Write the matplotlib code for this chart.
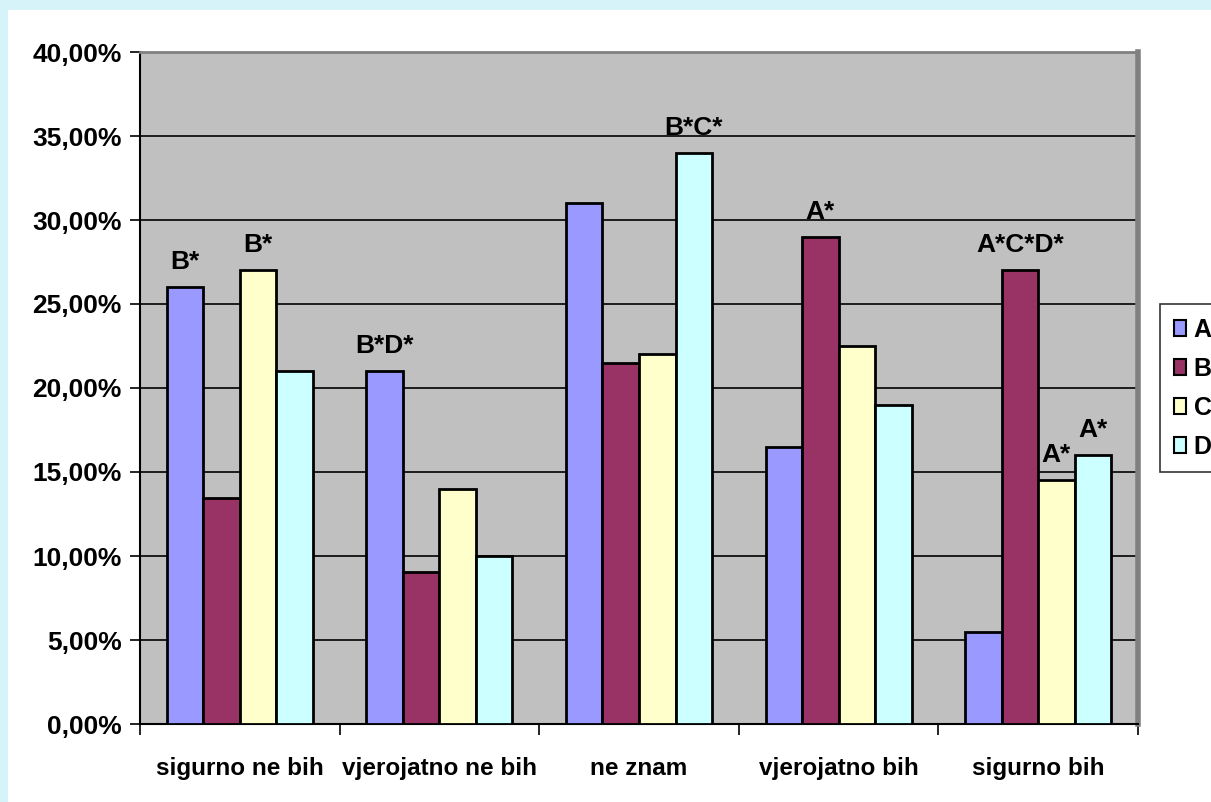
import matplotlib
matplotlib.use("Agg")
import matplotlib.pyplot as plt
import numpy as np
from matplotlib.patches import Rectangle
from matplotlib.ticker import FuncFormatter

categories = ["sigurno ne bih", "vjerojatno ne bih", "ne znam", "vjerojatno bih", "sigurno bih"]
series_names = ["A", "B", "C", "D"]
A = [26.0, 21.0, 31.0, 16.5, 5.5]
B = [13.45, 9.05, 21.5, 29.0, 27.0]
C = [27.0, 14.0, 22.0, 22.5, 14.5]
D = [21.0, 10.0, 34.0, 19.0, 16.0]
series = [A, B, C, D]
colors = ["#9999FF", "#993366", "#FFFFCC", "#CCFFFF"]
# annotations: (category index, series index, text)
annotations = [(0, 0, "B*"), (0, 2, "B*"), (1, 0, "B*D*"), (2, 3, "B*C*"),
               (3, 1, "A*"), (4, 1, "A*C*D*"), (4, 2, "A*"), (4, 3, "A*")]
yticks = [0, 5, 10, 15, 20, 25, 30, 35, 40]

plt.rcParams['font.family'] = ['Liberation Sans', 'DejaVu Sans']
plt.rcParams['font.weight'] = 'bold'

fig = plt.figure(figsize=(12.11, 8.02), dpi=100)
fig.patch.set_facecolor("white")
# light blue border strips (left and top)
fig.patches.append(Rectangle((0, 0), 8 / 1211, 1, transform=fig.transFigure,
                             facecolor="#D5F3F8", edgecolor="none", zorder=0))
fig.patches.append(Rectangle((0, 1 - 10 / 802), 1, 10 / 802, transform=fig.transFigure,
                             facecolor="#D5F3F8", edgecolor="none", zorder=0))

ax = fig.add_axes([140 / 1211, 1 - 724 / 802, (1138 - 140) / 1211, (724 - 52) / 802])
ax.set_facecolor("#C0C0C0")

n = len(categories)
x = np.arange(n)
w = 0.183
for i, (vals, col, name) in enumerate(zip(series, colors, series_names)):
    ax.bar(x + (i - 1.5) * w, vals, width=w, color=col, edgecolor="black",
           linewidth=2, label=name, zorder=3)

for ci, si, txt in annotations:
    ax.annotate(txt, (x[ci] + (si - 1.5) * w, series[si][ci]),
                xytext=(0, 13), textcoords="offset points", ha="center",
                va="baseline", fontsize=19, fontweight="bold", zorder=4)

ax.set_xlim(-0.5, n - 0.5)
ax.set_ylim(0, 40)
ax.set_yticks(yticks)
ax.yaxis.set_major_formatter(FuncFormatter(lambda v, p: f"{v:.2f}".replace(".", ",") + "%"))
ax.yaxis.grid(True, color="black", linewidth=1.2, zorder=1)
ax.set_axisbelow(True)

ax.set_xticks(x)
ax.set_xticklabels(categories, fontsize=17.5, fontweight="bold")
ax.set_xticks(np.arange(n + 1) - 0.5, minor=True)
ax.tick_params(axis="x", which="major", length=0, pad=24)
ax.tick_params(axis="x", which="minor", length=8, width=1.2, color="black")
ax.tick_params(axis="y", length=7, width=1.2, labelsize=19, pad=6)
for lab in ax.get_yticklabels():
    lab.set_fontweight("bold")

ax.spines["left"].set_color("black")
ax.spines["left"].set_linewidth(1.5)
ax.spines["bottom"].set_color("black")
ax.spines["bottom"].set_linewidth(1.5)
ax.spines["top"].set_color("#808080")
ax.spines["top"].set_linewidth(2)
ax.spines["right"].set_color("#808080")
ax.spines["right"].set_linewidth(4)

leg = fig.legend(loc="upper left", bbox_to_anchor=(1160 / 1211, 1 - 304 / 802),
                 frameon=True, fancybox=False, edgecolor="black",
                 prop={"weight": "bold", "size": 18}, handlelength=0.5, handleheight=0.6,
                 handletextpad=0.3, labelspacing=0.6, borderpad=0.55, borderaxespad=0)
leg.get_frame().set_linewidth(1.2)
for h in leg.legend_handles:
    h.set_linewidth(1.5)

fig.savefig("out.png", dpi=100)
